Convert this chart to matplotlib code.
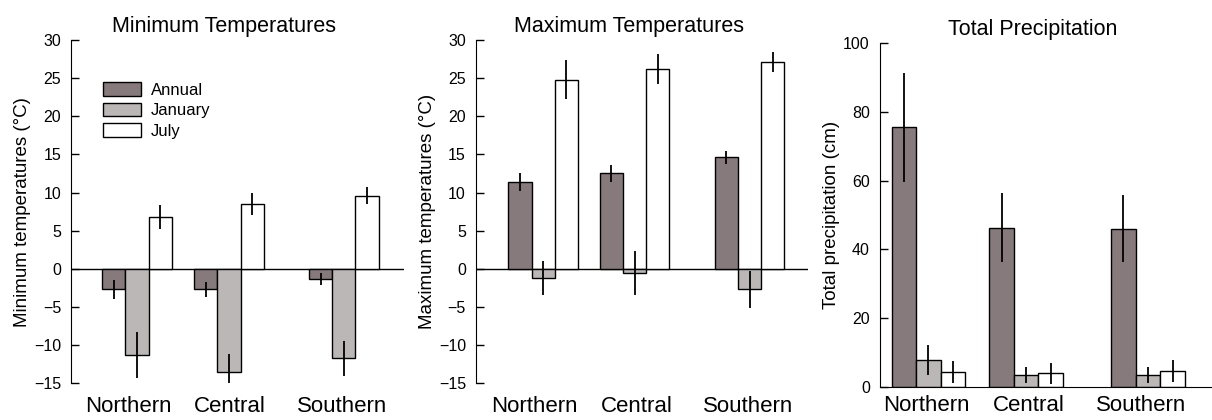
import matplotlib
matplotlib.use("Agg")
import matplotlib.pyplot as plt
import numpy as np

plt.rcParams['font.family'] = ['Liberation Sans', 'DejaVu Sans']

regions = ["Northern", "Central", "Southern"]
series = ["Annual", "January", "July"]

# minimum temperatures (deg C), one list per series
tmin_annual = [-2.7, -2.7, -1.3]
tmin_january = [-11.3, -13.5, -11.7]
tmin_july = [6.8, 8.5, 9.6]
tmin_annual_err = [1.3, 1.0, 0.8]
tmin_january_err = [3.0, 2.3, 2.3]
tmin_july_err = [1.6, 1.5, 1.1]

# maximum temperatures (deg C)
tmax_annual = [11.4, 12.5, 14.6]
tmax_january = [-1.2, -0.5, -2.7]
tmax_july = [24.8, 26.2, 27.1]
tmax_annual_err = [1.2, 1.1, 0.9]
tmax_january_err = [2.2, 2.9, 2.4]
tmax_july_err = [2.6, 2.0, 1.3]

# total precipitation (cm)
prec_annual = [75.5, 46.3, 46.0]
prec_january = [7.8, 3.4, 3.4]
prec_july = [4.4, 3.9, 4.6]
prec_annual_err = [15.8, 10.0, 9.7]
prec_january_err = [4.3, 2.4, 2.4]
prec_july_err = [3.2, 3.0, 3.2]

colors = ['#877a7c', '#bcb7b7', '#ffffff']


def draw_panel(ax, vals, errs, centers, width, labelpos, title, ylabel, ylim, yticks,
               zero_line, xpad=9):
    centers = np.array(centers)
    for i in range(3):
        x = centers + (i - 1) * width
        ax.bar(x, vals[i], width, color=colors[i], edgecolor='black', linewidth=1.0,
               label=series[i], zorder=2)
        ax.errorbar(x, vals[i], yerr=errs[i], fmt='none', ecolor='black',
                    elinewidth=1.3, capsize=0, zorder=3)
    ax.set_xlim(0, 1)
    ax.set_ylim(*ylim)
    ax.set_yticks(yticks)
    ax.set_xticks(labelpos)
    ax.set_xticklabels(regions, fontsize=16)
    ax.tick_params(axis='x', length=0, pad=xpad)
    ax.tick_params(axis='y', direction='in', length=6, width=1, labelsize=11.5, pad=7)
    for s in ['top', 'right']:
        ax.spines[s].set_visible(False)
    if zero_line:
        ax.spines['bottom'].set_visible(False)
        ax.axhline(0, color='black', linewidth=1.0, zorder=1)
    ax.set_ylabel(ylabel, fontsize=13.5, labelpad=2)
    ax.set_title(title, fontsize=15.5, x=0.46, pad=6)


fig = plt.figure(figsize=(12.12, 4.2), dpi=100)

ax1 = fig.add_axes([0.0586, 0.0874, 0.2745, 0.8174])
draw_panel(ax1,
           [tmin_annual, tmin_january, tmin_july],
           [tmin_annual_err, tmin_january_err, tmin_july_err],
           [0.198, 0.475, 0.820], 0.070, [0.172, 0.477, 0.815],
           "Minimum Temperatures", "Minimum temperatures (°C)",
           (-15, 30), np.arange(-15, 31, 5), True)
ax1.legend(loc='upper left', bbox_to_anchor=(0.05, 0.92), frameon=False, fontsize=12,
           handlelength=2.3, handleheight=0.85, labelspacing=0.3, handletextpad=0.6)

ax2 = fig.add_axes([0.3925, 0.0874, 0.2742, 0.8174])
draw_panel(ax2,
           [tmax_annual, tmax_january, tmax_july],
           [tmax_annual_err, tmax_january_err, tmax_july_err],
           [0.203, 0.478, 0.824], 0.070, [0.178, 0.484, 0.820],
           "Maximum Temperatures", "Maximum temperatures (°C)",
           (-15, 30), np.arange(-15, 31, 5), True)

ax3 = fig.add_axes([0.7257, 0.0793, 0.2742, 0.8175])
draw_panel(ax3,
           [prec_annual, prec_january, prec_july],
           [prec_annual_err, prec_january_err, prec_july_err],
           [0.147, 0.441, 0.808], 0.074, [0.142, 0.449, 0.786],
           "Total Precipitation", "Total precipitation (cm)",
           (0, 100), np.arange(0, 101, 20), False, xpad=6)

fig.savefig("out.png", dpi=100)
